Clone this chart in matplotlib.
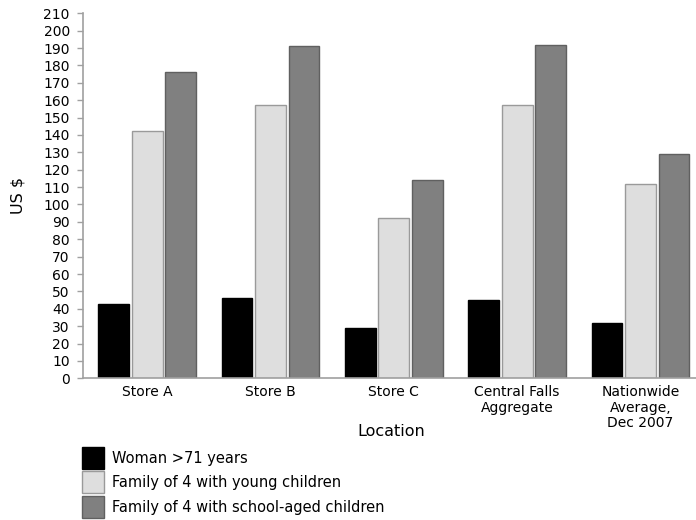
import matplotlib
matplotlib.use("Agg")
import matplotlib.pyplot as plt
import numpy as np

categories = ["Store A", "Store B", "Store C", "Central Falls\nAggregate", "Nationwide\nAverage,\nDec 2007"]
series_names = ["Woman >71 years", "Family of 4 with young children", "Family of 4 with school-aged children"]
woman = [43, 46, 29, 45, 32]
young = [142.5, 157, 92, 157, 112]
school = [176, 191, 114, 192, 129]
yticks = list(range(0, 211, 10))

fill_colors = ["#000000", "#dedede", "#808080"]
edge_colors = ["#000000", "#9a9a9a", "#606060"]

fig = plt.figure(figsize=(6.96, 5.2), dpi=100)
ax = fig.add_axes([83/696, 1-378.3/520, 1-83/696, (378.3-13.3)/520])

x = np.arange(len(categories))
width = 0.25
offsets = [-0.272, 0.0, 0.272]
for vals, off, fc, ec, name in zip([woman, young, school], offsets, fill_colors, edge_colors, series_names):
    ax.bar(x + off, vals, width, color=fc, edgecolor=ec, linewidth=1.0, label=name)

ax.set_xlim(-0.52, 4.45)
ax.set_ylim(0, 210)
ax.set_yticks(yticks)
ax.set_xticks(x)
ax.set_xticklabels(categories, fontsize=10, linespacing=1.12)
ax.tick_params(axis='x', length=0, pad=5, colors='#000000')
ax.tick_params(axis='y', length=4.5, width=1, color='#a0a0a0', labelsize=10, pad=5)
for s in ['top', 'right']:
    ax.spines[s].set_visible(False)
for s in ['left', 'bottom']:
    ax.spines[s].set_color('#a0a0a0')
    ax.spines[s].set_linewidth(1.2)

ax.set_ylabel("US $", fontsize=11.5)
ax.yaxis.set_label_coords(-0.094, 0.5)
fig.text(391/696, 1-432/520, "Location", fontsize=11.5, ha='center', va='center')

handles, labels = ax.get_legend_handles_labels()
fig.legend(handles, labels, loc='upper left', bbox_to_anchor=(82/696, 1-447/520),
           frameon=False, fontsize=10.5, handlelength=1.51, handleheight=1.944,
           labelspacing=0.17, handletextpad=0.52, borderpad=0, borderaxespad=0)

fig.savefig("out.png", dpi=100)
